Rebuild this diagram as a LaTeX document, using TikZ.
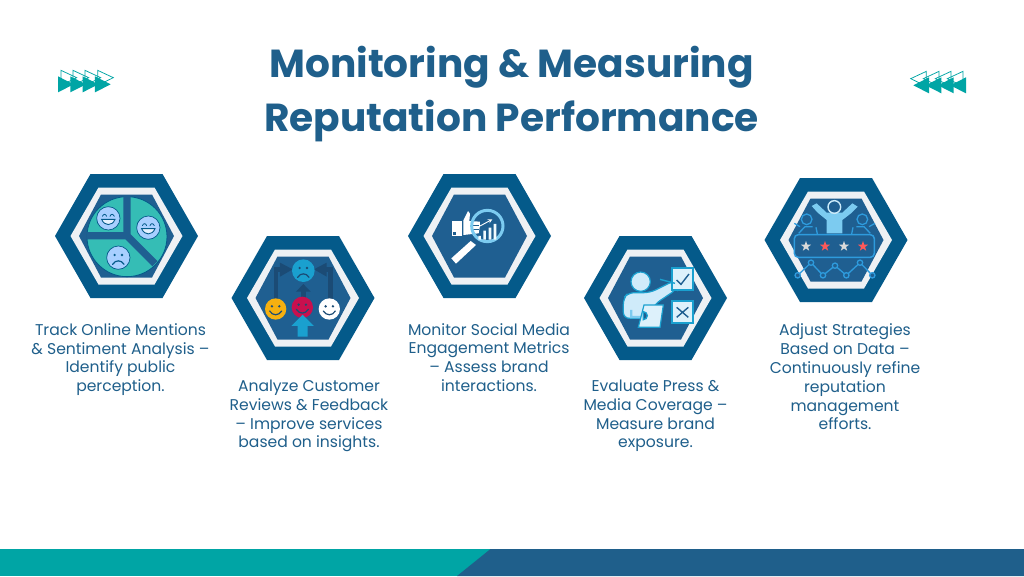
\documentclass[tikz,border=0pt]{standalone}
\usepackage{fontspec}
\setmainfont{Poppins}
\definecolor{hexout}{HTML}{045A8A}
\definecolor{hexring}{HTML}{EEF1F4}
\definecolor{hexin}{HTML}{1F5F91}
\definecolor{titleblue}{HTML}{1F5F8B}
\definecolor{bartteal}{HTML}{00A5A5}
\definecolor{teal2}{HTML}{35BDB5}
\definecolor{facebl}{HTML}{A8CFFF}
\definecolor{dark2}{HTML}{1B4B75}
\definecolor{sky}{HTML}{1AA0CF}
\definecolor{pale}{HTML}{CFEBFA}
\definecolor{mid}{HTML}{7CCBF0}
\definecolor{line5}{HTML}{2E9BDD}
\definecolor{yell}{HTML}{F5B010}
\definecolor{mage}{HTML}{C8104E}
\newcommand{\hexa}[2]{%
  \fill[hexout,shift={(#1,#2)}] (-71.5,0)--(-36,-62)--(36,-62)--(71.5,0)--(36,62)--(-36,62)--cycle;
  \fill[hexring,shift={(#1,#2)}] (-56,0)--(-28,-48.5)--(28,-48.5)--(56,0)--(28,48.5)--(-28,48.5)--cycle;
  \fill[hexin,shift={(#1,#2)}] (-47.5,0)--(-25.5,-41.5)--(25.5,-41.5)--(47.5,0)--(25.5,41.5)--(-25.5,41.5)--cycle;
}
\tikzset{faceline/.style={draw=#1,line width=.7pt}}
\newcommand{\mface}[6]{% x y r fill stroke kind(1 smile,-1 frown,2 happy arcs)
  \begin{scope}[shift={(#1,#2)}]
  \fill[#4,faceline=#5] (0,0) circle[radius=#3];
  \ifnum#6=2
    \draw[#5,line width=.8pt,line cap=round] (-18,-6) .. controls (-14,-14) and (-8,-14) .. (-5,-6) (5,-6) .. controls (8,-14) and (14,-14) .. (18,-6);
    \draw[#5,line width=.9pt,fill=white!70!facebl] (-20,3) .. controls (-12,24) and (12,24) .. (20,3) -- cycle;
  \else
  \fill[#5] (-11,-8) circle[radius=4] (11,-8) circle[radius=4];
  \ifnum#6=1
    \draw[#5,line width=1.2pt,line cap=round] (-18,6) .. controls (-9,21) and (9,21) .. (18,6);
  \else
    \draw[#5,line width=1.2pt,line cap=round] (-17,20) .. controls (-9,6) and (9,6) .. (17,20);
  \fi\fi
  \end{scope}
}
\newcommand{\mstar}[3]{\fill[#3,shift={(#1,#2)}] (-90:16)--(-54:6.5)--(-18:16)--(18:6.5)--(54:16)--(90:6.5)--(126:16)--(162:6.5)--(198:16)--(234:6.5)--cycle;}
\newcommand{\arrowset}{%
  \foreach \d in {110,72,36,0}{
    \draw[bartteal,line width=.75pt] (33+\d,31)--(80+\d,53)--(33+\d,76)--cycle;
  }
  \foreach \d in {0,37,74,111}{
    \fill[bartteal] (24+\d,49)--(71+\d,73)--(24+\d,97)--cycle;
  }
}
\tikzset{
  body/.style={font=\fontsize{15.6}{18.75}\selectfont,text=titleblue,align=center,inner sep=0pt},
  head/.style={font=\bfseries\fontsize{39.1}{54.5}\selectfont,text=titleblue,align=center,inner sep=0pt},
}
\begin{document}
\begin{tikzpicture}[x=1pt,y=-1pt]
\useasboundingbox (0,0) rectangle (1024,576);
\fill[white] (0,0) rectangle (1024,576);
% bottom bar
\fill[bartteal] (0,549) rectangle (500,576);
\fill[titleblue] (490.5,549)--(1024,549)--(1024,576)--(457,576)--cycle;
% title
\node[head] (title) at (511.5,94) {Monitoring \& Measuring\\Reputation Performance};
% arrows
\begin{scope}[shift={(50,60)},x=.3333pt,y=-.3333pt]\arrowset\end{scope}
\begin{scope}[shift={(974,61)},x=-.3333pt,y=-.3333pt]\arrowset\end{scope}
% hexagons
\hexa{126.5}{236}
\hexa{303}{298}
\hexa{479.5}{236}
\hexa{655.5}{298}
\hexa{836}{240}
% icon 1
\begin{scope}[shift={(40,165)},x=.3333pt,y=-.3333pt]
  \fill[teal2,draw=hexout,line width=.8pt] (261,215) circle[radius=120];
  \draw[hexin,line width=7.2pt] (261,93)--(261,212) (139,212)--(261,212)--(345,296);
  \mface{205}{160}{35}{facebl}{hexout}{2}
  \mface{325}{188}{35}{facebl}{hexout}{2}
  \mface{235}{278}{35}{facebl}{hexout}{-1}
\end{scope}
% icon 2
\begin{scope}[shift={(220,230)},x=.3333pt,y=-.3333pt]
  \tikzset{faceline/.style={}}
  \draw[dark2,line width=4.6pt] (168,210)--(168,118)--(190,118) (332,210)--(332,118)--(310,118) (250,210)--(250,175);
  \fill[dark2] (180,98)--(218,118)--(180,140)--cycle (320,98)--(282,118)--(320,140)--cycle (228,185)--(250,162)--(272,185)--cycle;
  \mface{250}{122}{34}{sky}{dark2}{-1}
  \mface{167}{237}{32}{yell}{dark2}{1}
  \mface{247}{232}{32}{mage}{dark2}{1}
  \mface{328}{237}{32}{white}{dark2}{1}
  \fill[sky] (248,254)--(282,288)--(263,288)--(263,320)--(233,320)--(233,288)--(214,288)--cycle;
\end{scope}
% icon 3
\begin{scope}[shift={(400,165)},x=.3333pt,y=-.3333pt]
  \fill[white] (157,168)--(186,168)--(186,212)--(157,212)--cycle;
  \fill[hexin] (160,202) rectangle (168,209);
  \fill[white] (190,166)--(198,150)--(204,138)--(210,146)--(208,168)--(240,170)--(240,182)--(236,205)--(190,210)--cycle;
  \draw[hexin,line width=.5pt] (212,182)--(238,182) (212,194)--(236,194);
  \fill[white] (212,228)--(228,240)--(168,296)--(154,280)--cycle;
  \draw[mid,line width=3pt] (262,183) circle[radius=47];
  \fill[white!90!mid] (235,213) rectangle (243,224) (250,197) rectangle (258,224) (266,188) rectangle (274,224) (281,177) rectangle (289,224);
  \draw[white,line width=.9pt,-stealth] (240,183)--(277,163);
\end{scope}
% icon 4
\begin{scope}[shift={(575,230)},x=.3333pt,y=-.3333pt]
  \fill[pale,draw=sky,line width=1.2pt] (197,155) circle[radius=29];
  \fill[pale,draw=sky,line width=1.2pt,rounded corners=6pt] (145,265)--(145,205)--(160,188)--(225,188)--(298,152)--(305,178)--(240,222)--(215,265)--cycle;
  \fill[mid] (165,240) rectangle (172,265) (172,258) rectangle (200,265);
  \fill[pale!70!white,draw=sky,line width=1.9pt] (290,113) rectangle (355,180) (290,213) rectangle (355,280);
  \draw[hexin,line width=1.4pt] (305,150)--(318,163)--(342,132) (305,232)--(340,262) (340,232)--(305,262);
  \draw[sky,line width=1.4pt] (255,148)--(300,160);
  \fill[pale!70!white,draw=sky,line width=1.2pt] (207,225)--(265,225)--(255,292)--(190,292)--cycle;
  \draw[sky,line width=1.3pt,fill=hexin] (205,245) arc[start angle=-90,end angle=90,radius=12]--cycle;
\end{scope}
% icon 5
\begin{scope}[shift={(755,170)},x=.3333pt,y=-.3333pt]
  \foreach \m/\o in {155/1,322/-1}{
    \draw[line5,line width=1.3pt] (\m,148) circle[radius=16];
    \draw[line5,line width=1.3pt] (\m-24*\o,190)--(\m-5*\o,170)--(\m+18*\o,170) (\m+\o*32,192)--(\m+\o*28,172);
  }
  \draw[line5,line width=1.3pt] (118,160)--(135,170) (360,160)--(342,170);
  \fill[mid] (215,190)--(215,150)--(188,128)--(170,108)--(185,100)--(215,128)--(262,128)--(292,100)--(308,110)--(288,130)--(262,150)--(262,190)--cycle;
  \draw[mid!40!white,line width=1.4pt] (238,111) circle[radius=19];
  \fill[hexin,draw=line5,line width=1.5pt,rounded corners=4pt] (118,194) rectangle (358,262);
  \mstar{153}{229}{white!70!gray}
  \mstar{210}{229}{red!65!white}
  \mstar{267}{229}{white!70!gray}
  \mstar{324}{229}{red!65!white}
  \draw[line5,line width=1.3pt] (128,316)--(168,278)--(204,316)--(240,287)--(274,316)--(315,278)--(352,316);
  \foreach \px/\py in {128/316,168/278,204/316,240/287,274/316,315/278,352/316}{
    \fill[hexin,draw=line5,line width=1.3pt] (\px,\py) circle[radius=8];
  }
\end{scope}
% labels
\node[body] (t1) at (120.5,359.5) {Track Online Mentions\\\& Sentiment Analysis –\\Identify public\\perception.};
\node[body] (t2) at (309,416) {Analyze Customer\\Reviews \& Feedback\\– Improve services\\based on insights.};
\node[body] (t3) at (489,357.5) {Monitor Social Media\\Engagement Metrics\\– Assess brand\\interactions.};
\node[body] (t4) at (655.5,416) {Evaluate Press \&\\Media Coverage –\\Measure brand\\exposure.};
\node[body] (t5) at (845,377) {Adjust Strategies\\Based on Data –\\Continuously refine\\reputation\\management\\efforts.};
\end{tikzpicture}
\end{document}
